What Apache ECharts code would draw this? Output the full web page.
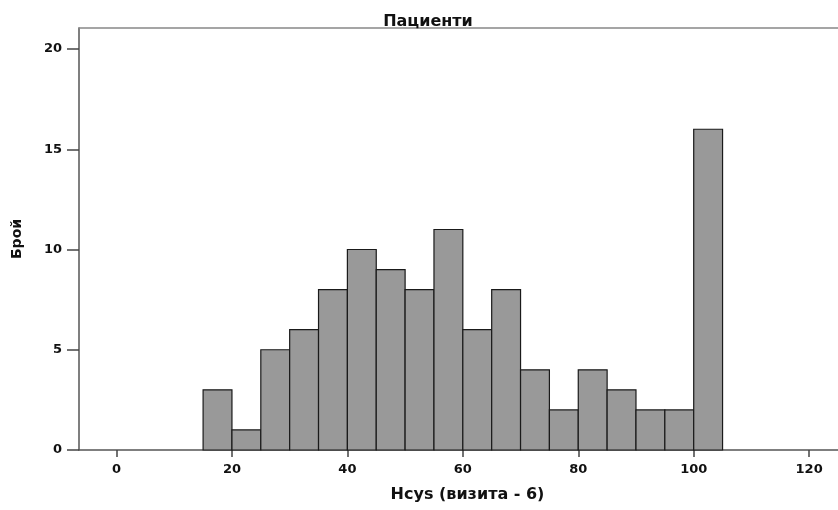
<!DOCTYPE html>
<html><head><meta charset="utf-8">
<script src="https://cdn.jsdelivr.net/npm/echarts@6/dist/echarts.min.js"></script>
<style>html,body{margin:0;padding:0;background:#fff}#c{width:838px;height:510px}</style>
</head><body><div id="c"></div>
<script>
const binStarts = [15,20,25,30,35,40,45,50,55,60,65,70,75,80,85,90,95,100];
const binWidth = 5;
const counts = [3,1,5,6,8,10,9,8,11,6,8,4,2,4,3,2,2,16];
const xTicks = [0,20,40,60,80,100,120];
const yTicks = [0,5,10,15,20];

const data = binStarts.map((s,i)=>[s, s+binWidth, counts[i]]);
const font = {fontFamily:'DejaVu Sans, Verdana, sans-serif', fontWeight:'bold', fontSize:13, color:'#111'};
const chart = echarts.init(document.getElementById('c'), null, {renderer:'canvas'});
chart.setOption({
  animation:false,
  title:{text:'Пациенти', left:423, top:9, textAlign:'center',
    textStyle:Object.assign({}, font, {fontSize:16})},
  grid:{left:79, right:0, top:28, bottom:60, containLabel:false},
  xAxis:[{
    type:'value', min:-6.5, max:125, position:'bottom',
    name:'Hcys (визита - 6)', nameLocation:'middle', nameGap:37,
    nameTextStyle:Object.assign({}, font, {fontSize:16, padding:[0,0,0,18]}),
    axisLine:{show:true, onZero:false, lineStyle:{color:'#555', width:1.5}},
    axisTick:{show:true, length:7, inside:false, customValues:xTicks, lineStyle:{color:'#444', width:1.5}},
    axisLabel:Object.assign({customValues:xTicks, margin:13}, font),
    splitLine:{show:false}
  },{
    type:'value', min:-6.5, max:125, position:'top',
    axisLine:{show:true, onZero:false, lineStyle:{color:'#888', width:1.5}},
    axisTick:{show:false}, axisLabel:{show:false}, splitLine:{show:false}
  }],
  yAxis:{
    type:'value', min:0, max:21.05,
    name:'Брой', nameLocation:'middle', nameGap:55,
    nameTextStyle:Object.assign({}, font, {fontSize:14}),
    axisLine:{show:true, onZero:false, lineStyle:{color:'#555', width:1.5}},
    axisTick:{show:true, length:12, customValues:yTicks, lineStyle:{color:'#444', width:1.5}},
    axisLabel:Object.assign({customValues:yTicks, margin:17}, font),
    splitLine:{show:false}
  },
  series:[{
    type:'custom',
    data:data,
    encode:{x:[0,1], y:2},
    renderItem:function(params, api){
      const p0 = api.coord([api.value(0), api.value(2)]);
      const p1 = api.coord([api.value(1), 0]);
      return {type:'rect', shape:{x:p0[0], y:p0[1], width:p1[0]-p0[0], height:p1[1]-p0[1]},
        style:{fill:'#999999', stroke:'#1a1a1a', lineWidth:1.2}};
    }
  }]
});
</script></body></html>
